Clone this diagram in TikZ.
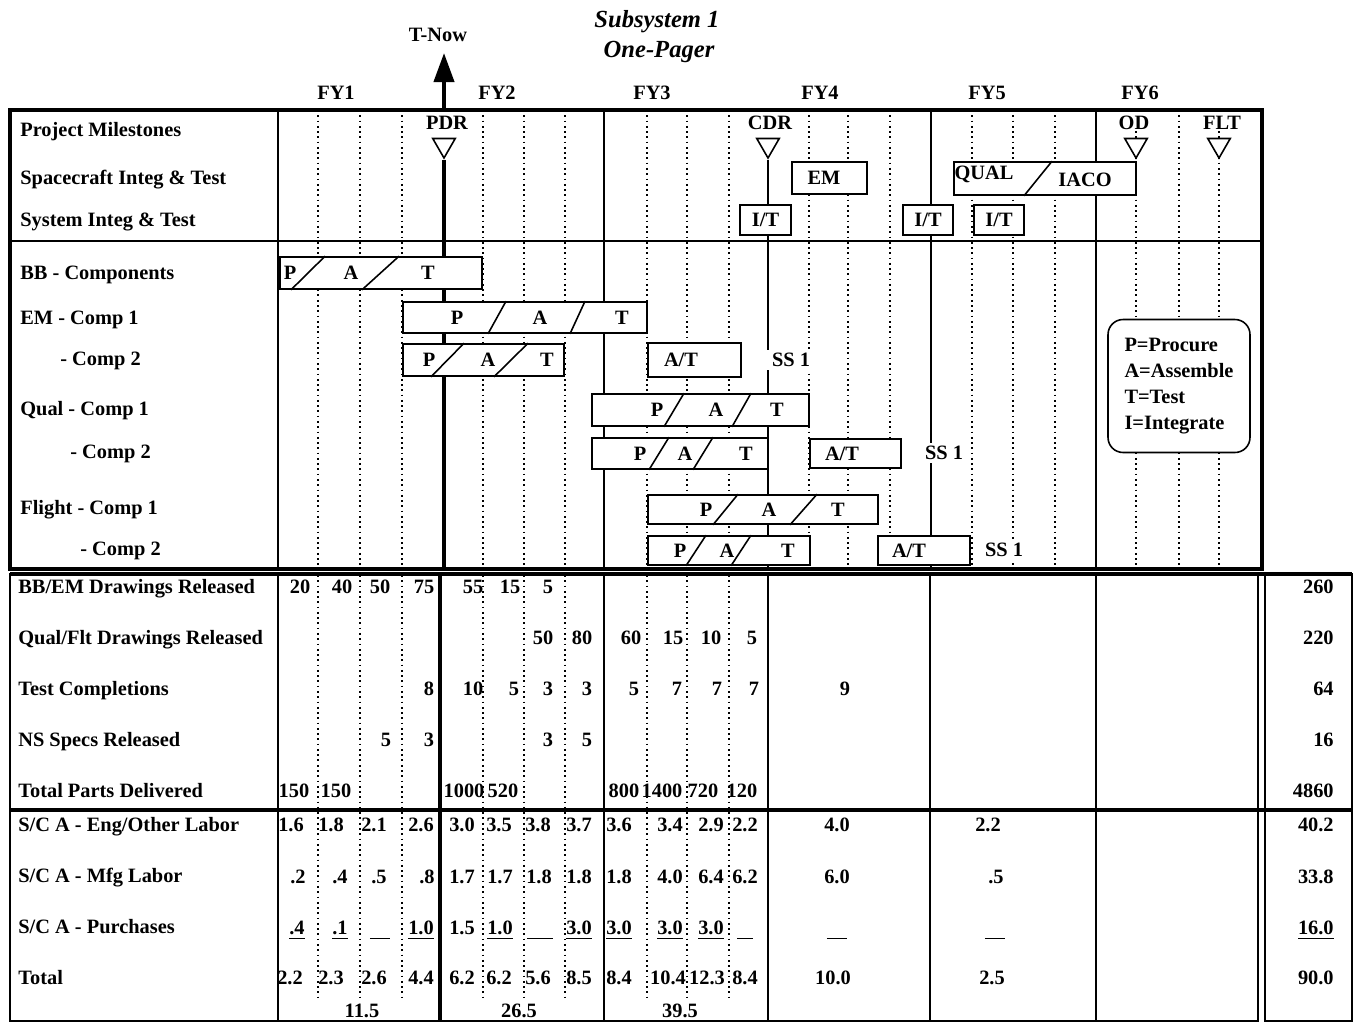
\documentclass[tikz,border=0pt]{standalone}
\usepackage{fontspec}
\setmainfont{Liberation Serif}
\usetikzlibrary{arrows.meta,positioning,shapes.geometric,fit}

\newcommand{\ulnum}[1]{\setbox0=\hbox{#1}\rlap{\rule[-2.6pt]{\wd0}{1pt}}\box0}

\begin{document}
\begin{tikzpicture}[
  x=0.02cm, y=-0.02cm,
  font=\fontsize{11.6}{13}\selectfont\bfseries,
  outer/.style={line width=2pt},
  solidrule/.style={line width=0.9pt},
  quarter/.style={line width=1pt, dash pattern=on 1pt off 2pt},
  tnow/.style={line width=2.3pt},
  txt/.style={inner sep=0pt, text height=7.6pt, text depth=0pt},
  rowlbl/.style={txt, anchor=west},
  tot/.style={txt, anchor=east},
  ttl/.style={inner sep=0pt, text height=9.3pt, text depth=0pt, font=\fontsize{14}{16}\selectfont\bfseries\itshape},
  task/.style={draw, fill=white, line width=0.9pt, inner sep=0pt},
  mile/.style={draw, fill=white, line width=0.9pt, regular polygon, regular polygon sides=3, shape border rotate=180, minimum size=0.52cm, inner sep=0pt},
  milelbl/.style={txt, fill=white, inner xsep=2pt, inner ysep=1pt},
  sslbl/.style={txt, fill=white, inner xsep=4pt, inner ysep=2pt},
  keybox/.style={draw, fill=white, rounded corners=0.3cm, line width=0.9pt, align=left, minimum width=2.84cm, minimum height=2.66cm, font=\fontsize{11.6}{14.7}\selectfont\bfseries}
]
\useasboundingbox (0,0) rectangle (1355,1022);

% headings
\node[ttl] (sub1) at (657,19) {Subsystem 1};
\node[ttl] (onepg) at (659,49) {One-Pager};
\node[txt] (tnowlbl) at (438,35) {T-Now};
\foreach \x/\v in {336/1, 497/2, 652/3, 820/4, 987/5, 1140/6}
  \node[txt] (fy\v) at (\x,93) {FY\v};

% quarter grid
\foreach \x in {318,360,402,483,524,565,647,687,729,809,848,890,972,1013,1055,1136,1179,1219}
  \draw[quarter] (\x,110) -- (\x,569);
\foreach \x in {318,360,402,483,524,565,647,687,729}
  \draw[quarter] (\x,575) -- (\x,1000);

% schedule frame
\draw[solidrule] (278,110) -- (278,569);
\draw[solidrule] (10,241) -- (1262,241);
\foreach \x in {604,931,1096}
  \draw[solidrule] (\x,110) -- (\x,569);
\draw[outer] (10,110) rectangle (1262,569);

% milestones
\node[mile] (pdr) at (444,145) {};
\node[mile] (cdr) at (768,145) {};
\node[mile] (od) at (1136,145) {};
\node[mile] (flt) at (1219,145) {};
\coordinate (tnowbase) at (444,110);
\coordinate (tnowtip) at (444,53);
\coordinate (tnowend) at (444,569);
\coordinate (cdrend) at (768,569);
\draw[tnow, -{Triangle[width=0.4cm,length=0.58cm]}] (tnowbase) -- (tnowtip);
\draw[tnow] (pdr.south) -- (tnowend);
\draw[solidrule] (cdr.south) -- (cdrend);
\node[milelbl] (pdrlbl) at (447,123) {PDR};
\node[milelbl] (cdrlbl) at (770,123) {CDR};
\node[milelbl] (odlbl) at (1134,123) {OD};
\node[milelbl] (fltlbl) at (1222,123) {FLT};

% task bars
\node[task, fit={(792,162) (867,194)}] (em) {};
\node[task, fit={(954,162) (1136,195)}] (qual) {};
\node[task, fit={(740,205) (791,235)}] (it1) {};
\node[task, fit={(903,205) (953,235)}] (it2) {};
\node[task, fit={(974,205) (1024,235)}] (it3) {};
\node[task, fit={(280,257) (482,289)}] (bb) {};
\node[task, fit={(403,302) (647,333)}] (em1) {};
\node[task, fit={(403,344) (564,376)}] (em2) {};
\node[task, fit={(648,343) (741,377)}] (em2at) {};
\node[task, fit={(592,394) (809,426)}] (q1) {};
\node[task, fit={(592,438) (768,469)}] (q2) {};
\node[task, fit={(810,439) (901,468)}] (q2at) {};
\node[task, fit={(648,495) (878,524)}] (f1) {};
\node[task, fit={(648,536) (810,565)}] (f2) {};
\node[task, fit={(878,536) (970,565)}] (f2at) {};

\draw[solidrule] (1052,0 |- qual.north) -- (1024,0 |- qual.south);
\foreach \nm/\sa/\sb/\sc/\sd in {bb/325/291/399/362, em1/506/488/585/570, em2/464/431/528/494,
    q1/684/664/751/732, q2/669/649/713/693, f1/738/713/817/790, f2/706/686/751/731} {
  \draw[solidrule] (\sa,0 |- \nm.north) -- (\sb,0 |- \nm.south);
  \draw[solidrule] (\sc,0 |- \nm.north) -- (\sd,0 |- \nm.south);
}
\foreach \nm/\xp/\xa/\xt in {bb/290/351/428, em1/457/540/622, em2/429/488/547,
    q1/657/716/777, q2/640/685/746, f1/706/769/838, f2/680/727/788} {
  \node[txt] (\nm p) at (\xp,0 |- \nm) {P};
  \node[txt] (\nm a) at (\xa,0 |- \nm) {A};
  \node[txt] (\nm t) at (\xt,0 |- \nm) {T};
}
\node[txt] (emtxt) at (824,0 |- em) {EM};
\node[txt] (qualtxt) at (984,173) {QUAL};
\node[txt] (iacotxt) at (1085,180) {IACO};
\foreach \nm in {it1,it2,it3}
  \node[txt] (\nm txt) at (\nm) {I/T};
\node[txt] (em2attxt) at (681,0 |- em2at) {A/T};
\node[txt] (q2attxt) at (842,0 |- q2at) {A/T};
\node[txt] (f2attxt) at (909,0 |- f2at) {A/T};
\node[sslbl] (ss1a) at (791,360) {SS 1};
\node[sslbl] (ss1b) at (944,453) {SS 1};
\node[sslbl] (ss1c) at (1004,550) {SS 1};

\node[keybox] (key) at (1179,386) {P=Procure\\A=Assemble\\T=Test\\I=Integrate};

% schedule row labels
\foreach \x/\y/\t [count=\i] in {20/130/Project Milestones, 20/178/Spacecraft Integ \& Test,
    20/220/System Integ \& Test, 20/273/BB - Components, 20/318/EM - Comp 1, 60/359/- Comp 2,
    20/409/Qual - Comp 1, 70/452/- Comp 2, 20/508/Flight - Comp 1, 80/549/- Comp 2}
  \node[rowlbl] (task\i) at (\x,\y) {\t};

% table frame
\draw[line width=1.2pt] (10,574) rectangle (1258,1021);
\draw[line width=1.2pt] (1265,574) rectangle (1352,1021);
\draw[outer] (10,574) -- (1352,574);
\draw[outer] (10,810) -- (1352,810);
\foreach \x in {278,604,768,930,1096}
  \draw[solidrule] (\x,574) -- (\x,1021);
\draw[outer] (440,574) -- (440,1021);

% table row labels
\foreach \y/\t [count=\i] in {587/{BB/EM Drawings Released}, 638/{Qual/Flt Drawings Released},
    689/{Test Completions}, 740/{NS Specs Released}, 791/{Total Parts Delivered},
    825/{S/C A - Eng/Other Labor}, 876/{S/C A - Mfg Labor}, 927/{S/C A - Purchases}, 978/{Total}}
  \node[rowlbl] (row\i) at (18,\y) {\t};

% table values
\foreach \x/\v [count=\i] in {300/20, 342/40, 380/50, 424/75, 473/55, 510/15, 548/5}
  \node[txt] (ra\i) at (\x,587) {\v};
\foreach \x/\v [count=\i] in {543/50, 582/80, 631/60, 673/15, 711/10, 752/5}
  \node[txt] (rb\i) at (\x,638) {\v};
\foreach \x/\v [count=\i] in {429/8, 473/10, 514/5, 548/3, 587/3, 634/5, 677/7, 717/7, 754/7, 845/9}
  \node[txt] (rc\i) at (\x,689) {\v};
\foreach \x/\v [count=\i] in {386/5, 429/3, 548/3, 587/5}
  \node[txt] (rd\i) at (\x,740) {\v};
\foreach \x/\v [count=\i] in {294/150, 336/150, 464/1000, 503/520, 624/800, 662/1400, 703/720, 742/120}
  \node[txt] (re\i) at (\x,791) {\v};
\foreach \x/\v [count=\i] in {291/1.6, 331/1.8, 374/2.1, 421/2.6, 462/3.0, 499/3.5, 538/3.8, 579/3.7,
    619/3.6, 670/3.4, 711/2.9, 745/2.2, 837/4.0, 988/2.2}
  \node[txt] (rf\i) at (\x,825) {\v};
\foreach \x/\v [count=\i] in {298/.2, 340/.4, 379/.5, 427/.8, 462/1.7, 500/1.7, 539/1.8, 579/1.8,
    619/1.8, 670/4.0, 711/6.4, 745/6.2, 837/6.0, 996/.5}
  \node[txt] (rg\i) at (\x,877) {\v};
\foreach \x/\v [count=\i] in {297/{\ulnum{.4}}, 340/{\ulnum{.1}}, 380/{\ulnum{\hphantom{00}}}, 421/{\ulnum{1.0}},
    462/1.5, 500/{\ulnum{1.0}}, 540/{\ulnum{\hphantom{00.}}}, 579/{\ulnum{3.0}},
    619/{\ulnum{3.0}}, 670/{\ulnum{3.0}}, 711/{\ulnum{3.0}}, 745/{\ulnum{\hphantom{0.}}},
    837/{\ulnum{\hphantom{00}}}, 995/{\ulnum{\hphantom{00}}}}
  \node[txt] (rh\i) at (\x,928) {\v};
\foreach \x/\v [count=\i] in {290/2.2, 331/2.3, 374/2.6, 421/4.4, 462/6.2, 499/6.2, 538/5.6, 579/8.5,
    619/8.4, 668/10.4, 707/12.3, 745/8.4, 833/10.0, 992/2.5}
  \node[txt] (ri\i) at (\x,978) {\v};
\foreach \x/\v [count=\i] in {362/11.5, 519/26.5, 680/39.5}
  \node[txt] (fysum\i) at (\x,1011) {\v};
\foreach \y/\v [count=\i] in {587/260, 638/220, 689/64, 740/16, 791/4860,
    825/40.2, 877/33.8, 928/{\ulnum{16.0}}, 978/90.0}
  \node[tot] (tot\i) at (1334,\y) {\v};
\end{tikzpicture}
\end{document}
